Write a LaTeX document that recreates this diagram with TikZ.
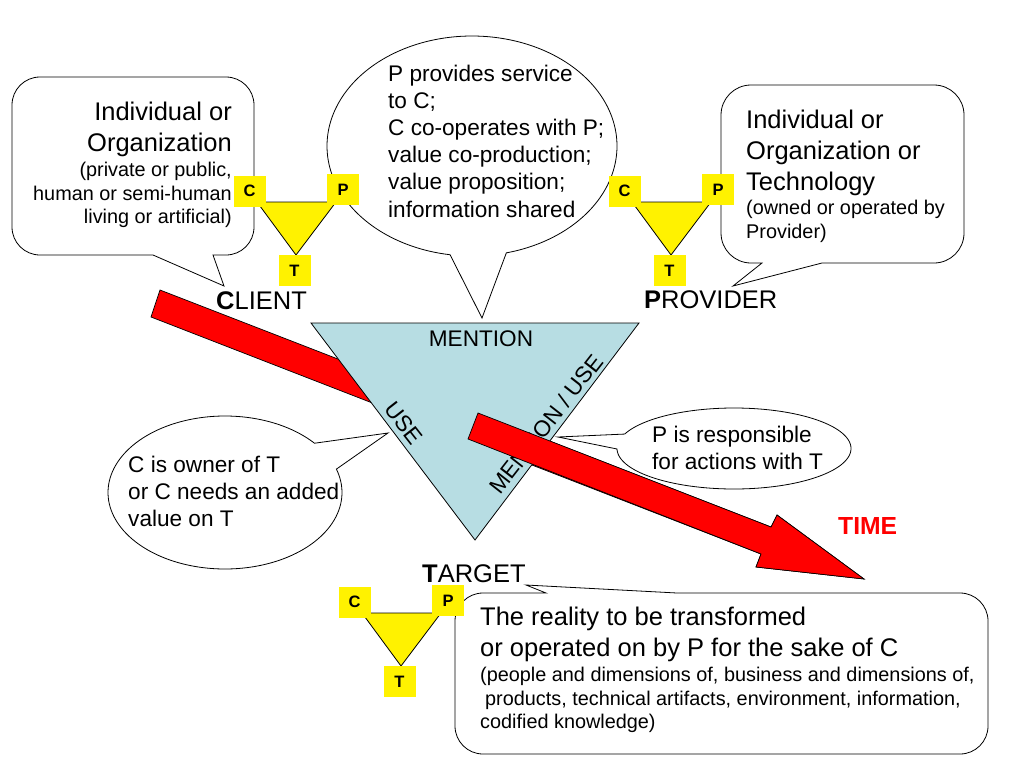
\documentclass[tikz,border=0pt]{standalone}
\usepackage{fontspec}
\setmainfont{Liberation Sans}
\definecolor{triblue}{HTML}{B7DDE3}
\newcommand{\szf}[2]{\fontsize{#1}{#2}\selectfont}
\newcommand{\triad}[3]{%
  \begin{scope}[shift={(#2,#3)}]
    \draw[yellowtri] (257,202) -- (336,202) -- (296,255) -- cycle;
    \node[letter] (#1C) at (249.5,191) {C};
    \node[letter] (#1P) at (343,189.5) {P};
    \node[letter] (#1T) at (294.5,270.5) {T};
  \end{scope}}
\newcommand{\bubbleell}[9]{% cx cy rx ry start end tipx tipy name
  \draw[bubble] plot[domain=#5:#6,samples=140,smooth] ({#1+#3*cos(\x)},{#2+#4*sin(\x)}) -- (#7,#8) -- cycle;
  \coordinate (#9) at (#7,#8);}
% rounded corners, each traversed clockwise on the page
\newcommand{\cornerTR}[3]{(#1-#3,#2) .. controls (#1-0.448*#3,#2) and (#1,#2+0.448*#3) .. (#1,#2+#3)}
\newcommand{\cornerBR}[3]{(#1,#2-#3) .. controls (#1,#2-0.448*#3) and (#1-0.448*#3,#2) .. (#1-#3,#2)}
\newcommand{\cornerBL}[3]{(#1+#3,#2) .. controls (#1+0.448*#3,#2) and (#1,#2-0.448*#3) .. (#1,#2-#3)}
\newcommand{\cornerTL}[3]{(#1,#2+#3) .. controls (#1,#2+0.448*#3) and (#1+0.448*#3,#2) .. (#1+#3,#2)}
\tikzset{
  bubble/.style={draw=black,fill=white,line width=0.8pt,line join=miter},
  yellowtri/.style={draw=black,fill=yellow,line width=0.8pt},
  letter/.style={fill=yellow,inner sep=0pt,minimum width=32pt,minimum height=31pt,font=\szf{16.5}{18}\bfseries},
  redarrow/.style={draw=black,fill=red,line width=0.7pt,line join=miter},
  big/.style={inner sep=0pt,font=\szf{25.5}{31}},
  mid/.style={inner sep=0pt,font=\szf{22.6}{27.2}},
  small/.style={inner sep=0pt,font=\szf{19.85}{23.6}}
}
\begin{document}
\begin{tikzpicture}[x=1pt,y=-1pt]
\useasboundingbox (0,0) rectangle (1024,768);
% callouts
\draw[bubble] (153,255) -- \cornerBL{12}{255}{28} -- \cornerTL{12}{77}{28} -- \cornerTR{254}{77}{28} -- \cornerBR{254}{255}{28} -- (213,255) -- (224,286) -- cycle;
\draw[bubble] (762,263) -- \cornerBL{721}{263}{30} -- \cornerTL{721}{85}{30} -- \cornerTR{964}{85}{30} -- \cornerBR{964}{263}{30} -- (822,263) -- (733,286) -- cycle;
\draw[bubble] (677,593) -- \cornerTR{988}{593}{28} -- \cornerBR{988}{754}{28} -- \cornerBL{455}{754}{28} -- \cornerTL{455}{593}{28} -- (546,593) -- (526,585) -- cycle;
\bubbleell{472}{146}{145}{110}{98.7}{436.3}{482}{318}{tipA}
\bubbleell{225}{492.5}{117}{76.5}{-17.8}{319.9}{388}{433}{tipB}
\bubbleell{734}{448.5}{117}{40.5}{200.9}{539.3}{558}{437}{tipC}
% arrow, whole
\draw[redarrow] (160,290) -- (771,527) -- (777,515) -- (864,579) -- (756,567) -- (761,554) -- (151,317) -- cycle;
% big triangle
\draw[draw=black,fill=triblue,line width=0.8pt] (311,323) -- (639,323) -- (475,540) -- cycle;
\node[mid,anchor=base] (mention) at (481,346) {MENTION};
\node[mid,rotate=-52] (use) at (404,423) {USE};
\node[mid,rotate=52] (mentionuse) at (546,424) {MENTION / USE};
% arrow, front part
\draw[redarrow] (478,413) -- (771,527) -- (777,515) -- (864,579) -- (756,567) -- (761,554) -- (468,439) -- cycle;
% triads
\triad{a}{0}{0}
\triad{b}{375}{0}
\triad{c}{105}{411}
% texts
\node[big,anchor=north east,align=right] (cliA) at (232,101.5) {Individual or\\Organization};
\node[small,anchor=north east,align=right] (cliB) at (232,162.2) {(private or public,\\human or semi-human\\living or artificial)};
\node[mid,anchor=north west,align=left] (serv) at (388,64.5) {P provides service\\to C;\\C co-operates with P;\\value co-production;\\value proposition;\\information shared};
\node[big,anchor=north west,align=left] (proA) at (746,109.5) {Individual or\\Organization or\\Technology};
\node[small,anchor=north west,align=left] (proB) at (746,200.2) {(owned or operated by\\Provider)};
\node[mid,anchor=north west,align=left] (own) at (128,455.5) {C is owner of T\\or C needs an added\\value on T};
\node[mid,anchor=north west,align=left] (resp) at (652,425.5) {P is responsible\\for actions with T};
\node[big,anchor=north west,align=left] (tarA) at (480,606.5) {The reality to be transformed\\or operated on by P for the sake of C};
\node[small,anchor=north west,align=left] (tarB) at (480,667.2) {(people and dimensions of, business and dimensions of,\\\hspace*{5pt}products, technical artifacts, environment, information,\\codified knowledge)};
\node[big,anchor=base west] (client) at (216,309) {\textbf{C}LIENT};
\node[big,anchor=base west] (provider) at (644,308) {\textbf{P}ROVIDER};
\node[big,anchor=base west] (target) at (422,582) {\textbf{T}ARGET};
\node[inner sep=0pt,anchor=base west,text=red,font=\szf{24.7}{28}\bfseries] (time) at (838,534) {TIME};
\end{tikzpicture}
\end{document}
